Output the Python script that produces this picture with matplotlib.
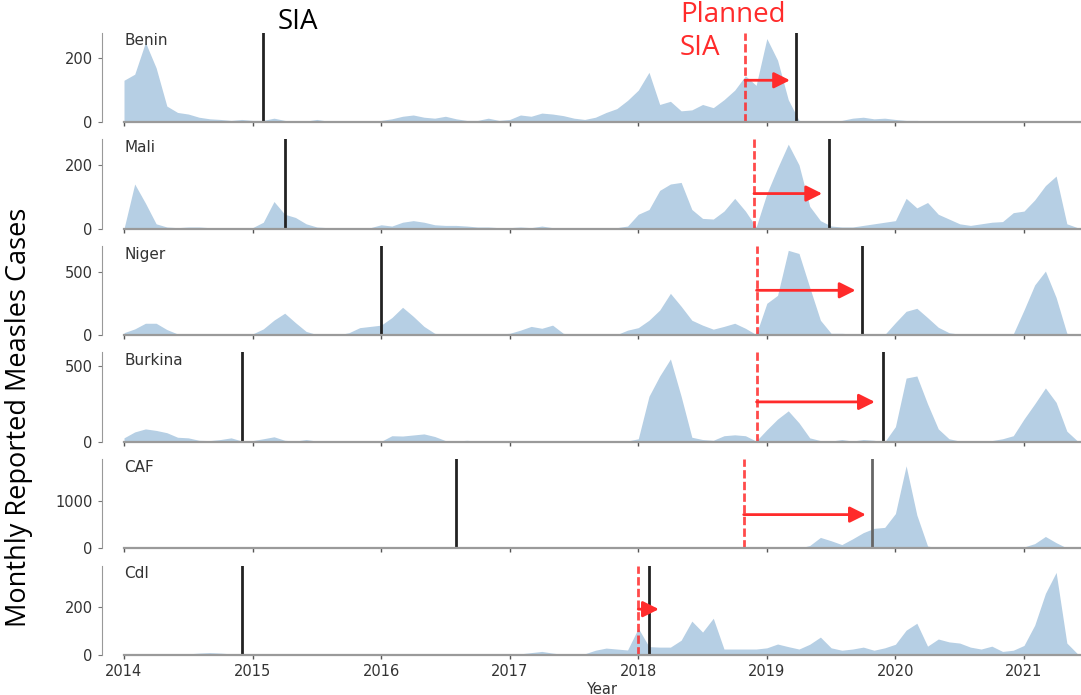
import numpy as np
import matplotlib
matplotlib.use('Agg')
import matplotlib.pyplot as plt

plt.rcParams['font.family'] = ['DejaVu Sans']

# monthly cases, Jan 2014 .. Jun 2021
months = 2014 + np.arange(90) / 12

benin = [131, 150, 250, 170, 50, 30, 25, 15, 10, 8, 5, 8,
         5, 5, 12, 5, 3, 3, 8, 3, 3, 3, 3, 3,
         5, 10, 18, 22, 15, 12, 18, 10, 5, 5, 12, 5,
         8, 22, 18, 28, 25, 20, 12, 8, 15, 30, 42, 68,
         100, 156, 55, 65, 35, 38, 55, 45, 70, 100, 145, 115,
         262, 194, 70, 5, 3, 3, 3, 5, 12, 15, 10, 12,
         8, 5, 5, 3, 3, 3, 3, 3, 3, 3, 3, 3,
         3, 3, 3, 3, 3, 3]
mali = [0, 140, 80, 15, 5, 3, 5, 5, 3, 3, 3, 3,
        3, 20, 85, 45, 35, 15, 5, 3, 3, 3, 3, 3,
        12, 8, 20, 25, 20, 12, 10, 10, 8, 5, 5, 3,
        3, 5, 3, 8, 3, 3, 3, 3, 3, 3, 3, 8,
        45, 60, 120, 140, 145, 60, 32, 30, 55, 95, 55, 5,
        110, 190, 265, 200, 70, 25, 8, 5, 5, 10, 15, 20,
        25, 95, 65, 82, 45, 30, 15, 10, 15, 20, 22, 50,
        55, 90, 135, 165, 15, 3]
niger = [20, 50, 95, 95, 45, 10, 3, 3, 3, 5, 5, 8,
         10, 50, 120, 175, 100, 30, 5, 3, 3, 20, 60, 70,
         80, 140, 222, 150, 70, 15, 5, 3, 3, 5, 5, 10,
         15, 40, 70, 55, 80, 15, 5, 3, 3, 5, 5, 40,
         60, 119, 200, 333, 230, 119, 80, 48, 70, 95, 55, 5,
         254, 317, 675, 650, 381, 119, 15, 15, 10, 5, 3, 5,
         100, 190, 214, 140, 63, 20, 8, 5, 5, 3, 3, 10,
         200, 400, 510, 300, 15, 3]
burkina = [26, 65, 85, 75, 60, 30, 26, 10, 8, 15, 26, 5,
           8, 20, 33, 10, 5, 15, 5, 3, 3, 3, 3, 3,
           3, 40, 38, 45, 52, 35, 8, 5, 10, 5, 3, 3,
           3, 3, 8, 3, 8, 3, 3, 3, 3, 3, 3, 5,
           20, 300, 434, 546, 300, 30, 15, 10, 40, 46, 40, 5,
           80, 150, 204, 125, 26, 8, 5, 15, 5, 15, 10, 0,
           100, 420, 434, 250, 85, 20, 5, 3, 3, 8, 20, 40,
           150, 250, 355, 260, 70, 5]
caf = [5, 10, 15, 15, 5, 5, 3, 3, 3, 3, 3, 3,
       3, 5, 15, 10, 5, 3, 3, 3, 3, 3, 3, 3,
       3, 8, 15, 20, 10, 20, 25, 8, 3, 3, 3, 3,
       3, 10, 5, 3, 8, 3, 3, 3, 3, 3, 3, 3,
       3, 3, 5, 3, 3, 3, 3, 3, 3, 3, 3, 3,
       15, 20, 15, 5, 60, 230, 160, 80, 200, 330, 420, 440,
       730, 1730, 700, 50, 10, 5, 3, 3, 3, 3, 10, 10,
       30, 100, 250, 120, 10, 3]
cdi = [3, 3, 3, 3, 3, 3, 5, 8, 10, 8, 5, 3,
       3, 3, 5, 3, 3, 3, 3, 3, 3, 3, 3, 3,
       3, 3, 3, 3, 5, 3, 3, 3, 3, 3, 3, 3,
       3, 5, 10, 15, 8, 3, 3, 5, 20, 29, 25, 21,
       112, 35, 33, 33, 62, 142, 96, 154, 25, 25, 25, 25,
       30, 46, 35, 25, 45, 75, 30, 20, 25, 33, 20, 30,
       45, 104, 133, 37, 67, 55, 50, 33, 25, 37, 15, 20,
       40, 125, 258, 346, 50, 5]

countries = ['Benin', 'Mali', 'Niger', 'Burkina', 'CAF', 'CdI']
cases = [benin, mali, niger, burkina, caf, cdi]
y_max = [281, 281, 712, 590, 1875, 375]
y_ticks = [[0, 200], [0, 200], [0, 500], [0, 500], [0, 1000], [0, 200]]

# SIA dates (decimal years)
sia_earlier = [2015.08, 2015.25, 2016.0, 2014.92, 2016.58, 2014.92]
sia_planned = [2018.83, 2018.90, 2018.92, 2018.92, 2018.82, 2018.0]
sia_done = [2019.23, 2019.48, 2019.74, 2019.90, 2019.82, 2018.08]
arrow_end = [2019.18, 2019.43, 2019.69, 2019.84, 2019.77, 2018.16]
arrow_y = [131, 110, 357, 263, 708, 192]

W, H = 1081, 695
fig = plt.figure(figsize=(W / 100, H / 100), dpi=100)

fill_col = '#b6cfe4'
txt_col = '#333333'
red = '#ff2b2b'

axes = []
for i, name in enumerate(countries):
    bot = 122 + 106.6 * i
    ax = fig.add_axes([124 / W, 1 - bot / H, (1080 - 124) / W, 89.5 / H])
    axes.append(ax)
    ax.fill_between(months, cases[i], 0, color=fill_col, lw=0)
    ax.set_xlim(2014, 2014 + (1080 - 124) / 128.57)
    ax.set_ylim(0, y_max[i])
    ax.set_yticks(y_ticks[i])
    ax.set_xticks(range(2014, 2022))

    # earlier and delayed campaigns
    ax.axvline(sia_earlier[i], color='#222222', lw=2)
    ax.axvline(sia_done[i], color='#222222' if name != 'CAF' else '#666666', lw=2)
    ax.axvline(sia_planned[i], color=red, lw=2, ls=(0, (3, 1.2)), alpha=0.85)
    ax.annotate('', xy=(arrow_end[i], arrow_y[i]), xytext=(sia_planned[i], arrow_y[i]),
                arrowprops=dict(arrowstyle='-|>', color=red, lw=2,
                                mutation_scale=24, shrinkA=0, shrinkB=0))

    ax.text(0.0, 0.99, name, transform=ax.transAxes, va='top', ha='left',
            fontsize=11, color=txt_col)

    for s in ['top', 'right']:
        ax.spines[s].set_visible(False)
    ax.spines['left'].set_position(('outward', 16))
    ax.spines['left'].set_color('#999999')
    ax.spines['left'].set_linewidth(0.8)
    ax.spines['bottom'].set_color('#9a9a9a')
    ax.spines['bottom'].set_linewidth(1.6)
    ax.tick_params(axis='y', length=3, width=0.8, colors='#777777',
                   labelsize=10.5, labelcolor=txt_col)
    ax.tick_params(axis='x', length=3, width=1, colors='#555555',
                   labelsize=10.5, labelcolor=txt_col)
    if i < len(countries) - 1:
        ax.tick_params(axis='x', labelbottom=False)

axes[-1].set_xlabel('Year', fontsize=10.5, color=txt_col, labelpad=2)

fig.text(0.018, 0.40, 'Monthly Reported Measles Cases', rotation=90,
         ha='center', va='center', fontsize=19.5, family=['Open Sans', 'DejaVu Sans'])
fig.text(278 / W, 1 - 22 / H, 'SIA', ha='left', va='center', fontsize=20,
         family=['Open Sans', 'DejaVu Sans'])
fig.text(680 / W, 1 - 1 / H, 'Planned\nSIA', ha='left', va='top', fontsize=20,
         color=red, linespacing=1.25, family=['Open Sans', 'DejaVu Sans'])

fig.savefig('out.png', dpi=100)
